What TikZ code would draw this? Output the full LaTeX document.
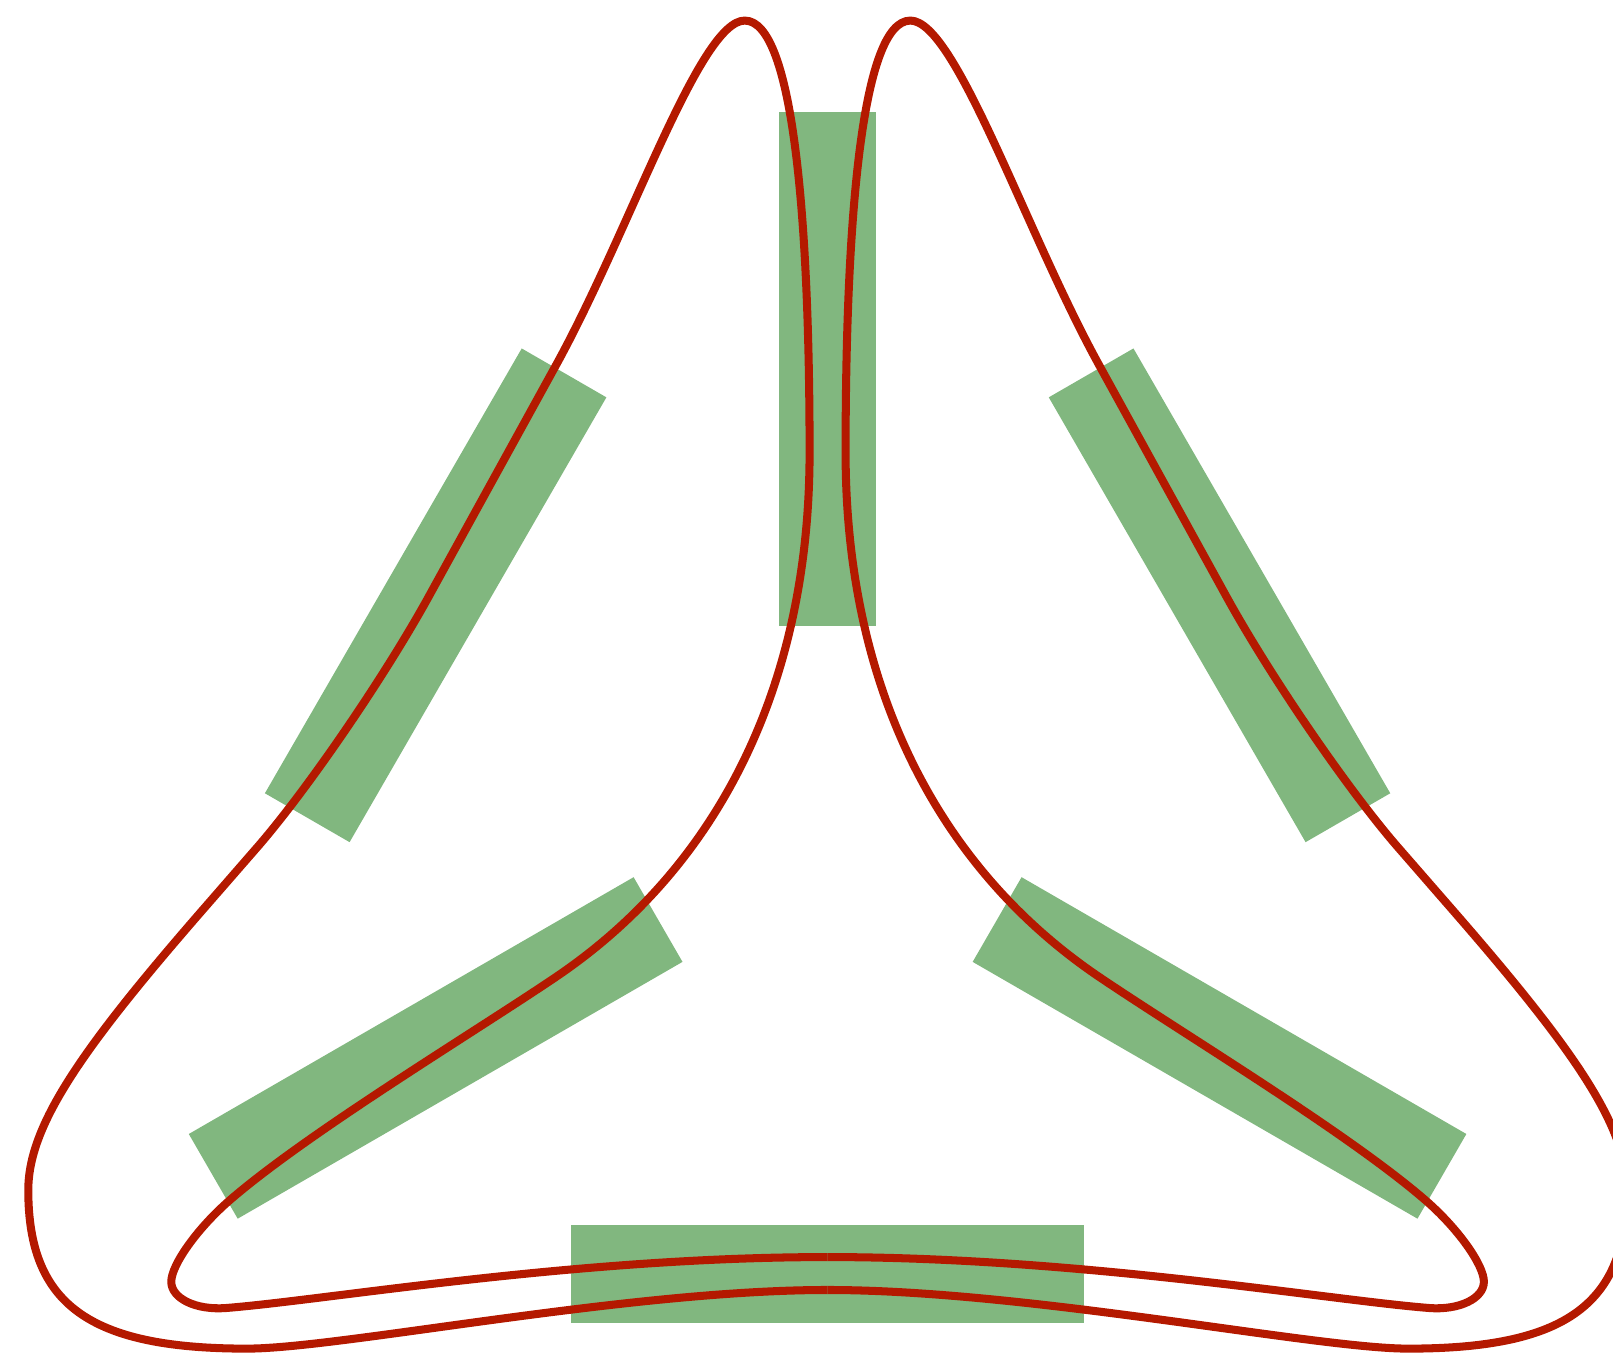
\documentclass[tikz,border=0pt]{standalone}
\definecolor{barg}{RGB}{129,183,127}
\definecolor{curv}{RGB}{180,25,0}
\tikzset{
  bar/.style={fill=barg, draw=none, inner sep=0pt, outer sep=0pt, minimum width=4.99cm, minimum height=0.95cm},
  loopline/.style={draw=curv, line width=0.078cm, line join=round}
}
\newcommand{\halfloop}{%
(804.5,1254) .. controls (610,1254) and (330,1311) .. (240,1311)
 .. controls (86.6,1311) and (27.5,1267.9) .. (27.5,1157)
 .. controls (27.5,1095) and (77.5,1022.1) .. (194,888)
 -- (250.6,823)
 .. controls (299.2,766.9) and (374,657.6) .. (416.75,580)
 -- (540.5,355)
 .. controls (612.8,223.6) and (680,20) .. (724,20)
 .. controls (772,20) and (787,220) .. (787,440)
 .. controls (787,663) and (700.5,841.6) .. (540,950)
 .. controls (457,1006) and (299.3,1101.1) .. (223.6,1166.5)
 .. controls (192,1193.8) and (166.5,1229.6) .. (166.5,1246)
 .. controls (166.5,1262) and (190.1,1273.9) .. (220,1271.5)
 .. controls (320,1263.5) and (560,1222) .. (804.5,1222)}
\begin{document}
\begin{tikzpicture}[x=0.01cm, y=-0.01cm]
\useasboundingbox (0,0) rectangle (1568,1315);
\clip (0,0) rectangle (1568,1315);
\node[bar, rotate=90]  (rtop) at (804.5,358.7) {};
\node[bar, rotate=120] (rur)  at (1185.5,578.7) {};
\node[bar, rotate=60]  (rul)  at (423.5,578.7) {};
\node[bar, rotate=30]  (rll)  at (423.5,1018.7) {};
\node[bar, rotate=0]   (rbot) at (804.5,1238.7) {};
\node[bar, rotate=150] (rlr)  at (1185.5,1018.7) {};
\draw[loopline] \halfloop;
\begin{scope}[shift={(1609,0)}, xscale=-1]
\draw[loopline] \halfloop;
\end{scope}
\end{tikzpicture}
\end{document}
